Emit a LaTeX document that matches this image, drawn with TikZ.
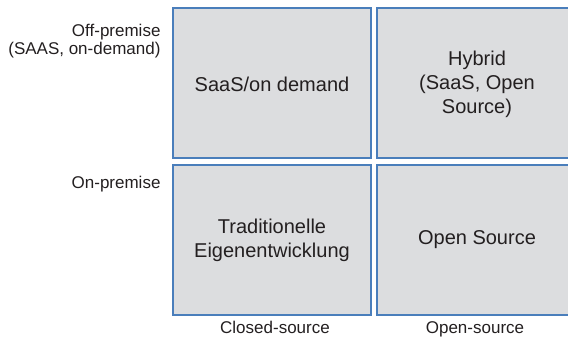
\documentclass[tikz,border=0pt]{standalone}
\usepackage{fontspec}
\setmainfont{Liberation Sans}
\definecolor{cellfill}{HTML}{DCDDDF}
\definecolor{cellline}{HTML}{4A7EBB}
\definecolor{txt}{HTML}{231F20}
\begin{document}
\begin{tikzpicture}[x=1pt,y=-1pt,
  cell/.style={draw=cellline,fill=cellfill,line width=1.4pt},
  celltext/.style={align=center,text=txt,font=\fontsize{20}{24}\selectfont},
  axis/.style={text=txt,font=\fontsize{17}{18.5}\selectfont}]
  \useasboundingbox (0,0) rectangle (568,339);
  \begin{scope}
    \clip (0,0) rectangle (568,339);
    % quadrant cells
    \draw[cell] (173,8) rectangle (371,158);
    \draw[cell] (377,8) rectangle (577,158);
    \draw[cell] (173,165) rectangle (371,315);
    \draw[cell] (377,165) rectangle (577,315);
  \end{scope}
  \node[celltext] (saas) at (272,84) {SaaS/on demand};
  \node[celltext] (hybrid) at (477,84) {Hybrid\\(SaaS, Open\\Source)};
  \node[celltext] (trad) at (272,240) {Traditionelle\\Eigenentwicklung};
  \node[celltext] (oss) at (477,240) {Open Source};
  % axis labels
  \node[axis,align=right,anchor=east] (off) at (164,41) {Off-premise\\(SAAS, on-demand)};
  \node[axis,anchor=east] (on) at (164,184) {On-premise};
  \node[axis,anchor=base,inner sep=0pt] (closed) at (275,334) {Closed-source};
  \node[axis,anchor=base,inner sep=0pt] (open) at (475,334) {Open-source};
\end{tikzpicture}
\end{document}
